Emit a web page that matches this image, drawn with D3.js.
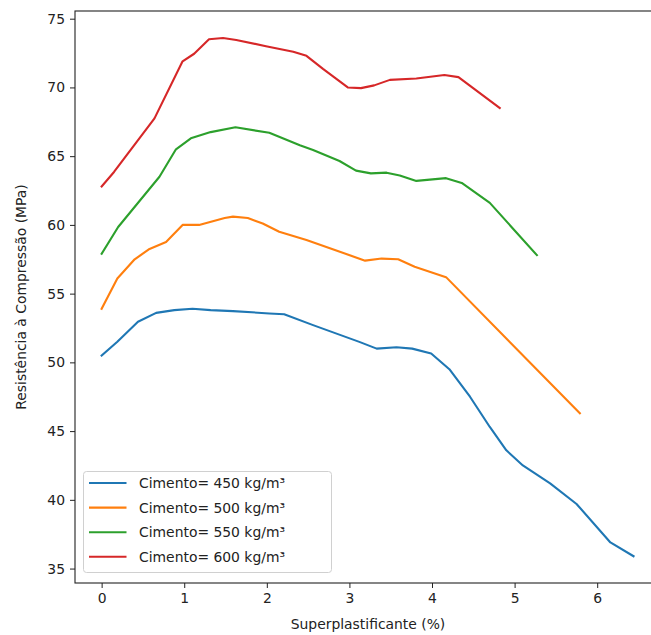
<!DOCTYPE html>
<html><head><meta charset="utf-8">
<script src="https://cdn.jsdelivr.net/npm/d3@7"></script>
<style>
html,body{margin:0;padding:0;background:#fff;}
svg text{font-family:"DejaVu Sans",sans-serif;}
</style></head>
<body><svg id="c" width="651" height="635"></svg>
<script>
const seriesNames = ["Cimento= 450 kg/m³","Cimento= 500 kg/m³","Cimento= 550 kg/m³","Cimento= 600 kg/m³"];
const seriesColors = ["#1f77b4","#ff7f0e","#2ca02c","#d62728"];
const x450 = [0,0.19,0.44,0.66,0.88,1.10,1.32,1.59,2.03,2.21,2.56,3.12,3.33,3.57,3.76,3.99,4.21,4.46,4.70,4.90,5.10,5.43,5.75,6.16,6.44];
const y450 = [50.5,51.5,52.95,53.6,53.8,53.9,53.8,53.73,53.56,53.5,52.71,51.49,51.0,51.1,51.0,50.65,49.5,47.5,45.3,43.6,42.5,41.2,39.7,36.9,35.9];
const x500 = [0,0.19,0.40,0.58,0.78,0.98,1.18,1.49,1.59,1.77,1.95,2.15,2.48,3.19,3.39,3.59,3.79,4.17,5.79];
const y500 = [53.9,56.1,57.5,58.25,58.75,60.0,60.0,60.5,60.6,60.5,60.1,59.5,58.9,57.4,57.55,57.5,56.95,56.2,46.3];
const x550 = [0,0.2,0.70,0.9,1.08,1.32,1.62,2.03,2.40,2.56,2.88,3.08,3.26,3.45,3.61,3.81,4.17,4.36,4.70,5.27];
const y550 = [57.9,59.85,63.5,65.5,66.3,66.75,67.1,66.7,65.8,65.45,64.65,63.95,63.75,63.8,63.6,63.2,63.4,63.05,61.6,57.8];
const x600 = [0,0.15,0.64,0.98,1.12,1.30,1.47,1.63,1.99,2.32,2.48,2.68,2.98,3.14,3.30,3.49,3.81,4.15,4.32,4.82];
const y600 = [62.8,63.85,67.75,71.9,72.45,73.5,73.6,73.45,73.0,72.6,72.3,71.35,70.0,69.95,70.15,70.55,70.65,70.9,70.75,68.5];
const xTicks = [0,1,2,3,4,5,6];
const yTicks = [35,40,45,50,55,60,65,70,75];

const L = 75, R = 661, T = 11, B = 583;
const x = d3.scaleLinear().domain([-0.3225, 6.7725]).range([L, R]);
const y = d3.scaleLinear().domain([33.95, 75.56]).range([B, T]);
const svg = d3.select("#c");

const series = [[x450,y450],[x500,y500],[x550,y550],[x600,y600]];
const line = d3.line().x(d=>x(d[0])).y(d=>y(d[1]));
svg.append("defs").append("clipPath").attr("id","pc").append("rect")
  .attr("x",L).attr("y",T).attr("width",R-L).attr("height",B-T);
const g = svg.append("g").attr("clip-path","url(#pc)");
series.forEach((s,i)=>{
  const pts = s[0].map((v,j)=>[v,s[1][j]]);
  g.append("path").datum(pts).attr("d",line).attr("fill","none")
   .attr("stroke",seriesColors[i]).attr("stroke-width",2.1)
   .attr("stroke-linejoin","round").attr("stroke-linecap","square");
});

const xa = svg.append("g").attr("transform",`translate(0,${B})`)
  .call(d3.axisBottom(x).tickValues(xTicks).tickFormat(d3.format("d")).tickSize(5).tickPadding(5));
const ya = svg.append("g").attr("transform",`translate(${L},0)`)
  .call(d3.axisLeft(y).tickValues(yTicks).tickFormat(d3.format("d")).tickSize(5).tickPadding(5));
[xa,ya].forEach(a=>{
  a.select(".domain").remove();
  a.selectAll("text").attr("font-size","13.9px").attr("fill","#222").attr("font-family","DejaVu Sans");
  a.selectAll("line").attr("stroke","#222").attr("stroke-width",1);
});
svg.append("rect").attr("x",L).attr("y",T).attr("width",R-L).attr("height",B-T)
  .attr("fill","none").attr("stroke","#222").attr("stroke-width",1.1);

svg.append("text").attr("x",(L+R)/2).attr("y",629).attr("text-anchor","middle")
  .attr("font-size","13.9px").attr("fill","#222").text("Superplastificante (%)");
svg.append("text").attr("transform",`translate(26,${(T+B)/2}) rotate(-90)`).attr("text-anchor","middle")
  .attr("font-size","13.9px").attr("fill","#222").text("Resistência à Compressão (MPa)");

const lg = svg.append("g");
lg.append("rect").attr("x",83.5).attr("y",471.5).attr("width",248).attr("height",101).attr("rx",3)
  .attr("fill","#fff").attr("fill-opacity",0.8).attr("stroke","#d0d0d0");
seriesNames.forEach((n,i)=>{
  const yy = 483 + i*24.6;
  lg.append("line").attr("x1",89).attr("x2",126.5).attr("y1",yy).attr("y2",yy)
    .attr("stroke",seriesColors[i]).attr("stroke-width",2.1);
  lg.append("text").attr("x",139).attr("y",yy+5).attr("font-size","13.9px").attr("fill","#222").text(n);
});
</script></body></html>
